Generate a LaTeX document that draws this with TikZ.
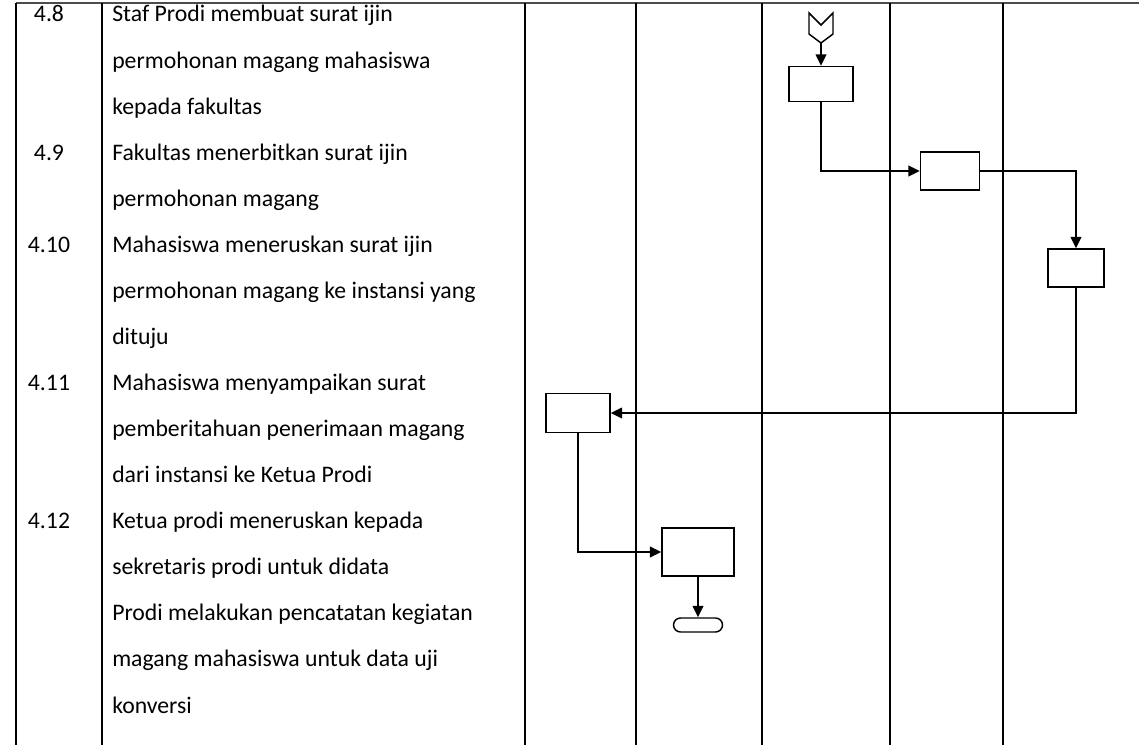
\documentclass[tikz,border=0pt]{standalone}
\usepackage{fontspec}
\setmainfont{Carlito}
\usetikzlibrary{arrows.meta,positioning}

\begin{document}
\begin{tikzpicture}[
    x=0.75pt, y=-0.75pt,
    txt/.style={anchor=base west, inner sep=0pt, font=\fontsize{17.8}{21}\selectfont},
    num/.style={anchor=base, inner sep=0pt, font=\fontsize{17.8}{21}\selectfont},
    act/.style={rectangle, draw, line width=1.1pt, inner sep=0pt},
    rule/.style={line width=1.1pt},
    arrow/.style={-{Triangle[length=8.5pt,width=8pt]}, line width=1.1pt}
]
    \useasboundingbox (0,0) rectangle (1139,745);

    % Table lines
    \draw[line width=1.6pt, black!70] (16,3) -- (1139,3);
    \foreach \x in {16,102,525,636,762,890,1003}
        \draw[rule] (\x,3) -- (\x,745);

    % Step numbers
    \foreach \i/\n in {0/4.8, 3/4.9, 5/4.10, 8/4.11, 11/4.12}
        \node[num] (n\i) at (49,22+46.07*\i) {\n};

    % Step descriptions
    \foreach \i/\t in {0/{Staf Prodi membuat surat ijin},
                       1/{permohonan magang mahasiswa},
                       2/{kepada fakultas},
                       3/{Fakultas menerbitkan surat ijin},
                       4/{permohonan magang},
                       5/{Mahasiswa meneruskan surat ijin},
                       6/{permohonan magang ke instansi yang},
                       7/{dituju},
                       8/{Mahasiswa menyampaikan surat},
                       9/{pemberitahuan penerimaan magang},
                       10/{dari instansi ke Ketua Prodi},
                       11/{Ketua prodi meneruskan kepada},
                       12/{sekretaris prodi untuk didata},
                       13/{Prodi melakukan pencatatan kegiatan},
                       14/{magang mahasiswa untuk data uji},
                       15/{konversi}}
        \node[txt] (t\i) at (112,22+46.07*\i) {\t};

    % Off-page connector
    \draw[line width=1.1pt, line join=miter] (809,13) -- (821,25) -- (833,13) -- (833,34)
        -- (821,43) -- (809,34) -- cycle;
    \coordinate (offpage) at (821,43);

    % Activities
    \node[act, minimum width=48pt, minimum height=26.25pt] (surat) at (821,84) {};
    \node[act, minimum width=44.25pt, minimum height=28.5pt] (fak) at (950,171) {};
    \node[act, minimum width=42pt, minimum height=28.5pt] (mhs) at (1076,268) {};
    \node[act, minimum width=48pt, minimum height=29.25pt] (kaprodi) at (578,413) {};
    \node[act, minimum width=54pt, minimum height=36pt] (sekprodi) at (698,552) {};
    \node[act, rounded corners=5.25pt, minimum width=36.75pt, minimum height=10.5pt] (stop) at (698,625) {};

    % Flow
    \draw[arrow] (offpage) -- (surat);
    \draw[arrow] (surat) |- (fak);
    \draw[arrow] (fak) -| (mhs);
    \draw[arrow] (mhs) |- (kaprodi);
    \draw[arrow] (kaprodi) |- (sekprodi);
    \draw[arrow] (sekprodi) -- (stop);
\end{tikzpicture}
\end{document}
